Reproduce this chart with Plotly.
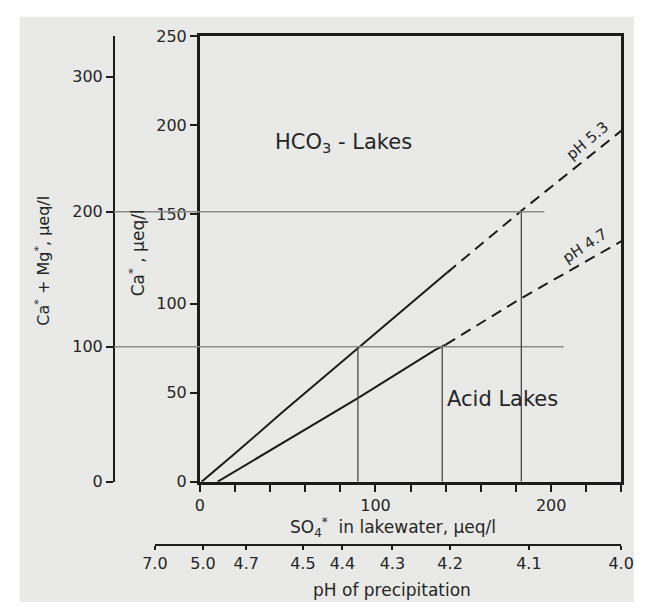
import plotly.graph_objects as go

# ---------------- data ----------------
so4_tickvals = [0, 100, 200]
so4_minor_step = 20
ca_tickvals = [0, 50, 100, 150, 200, 250]
camg_tickvals = [0, 100, 200, 300]

ph53_solid_x = [1, 19, 47, 90, 134, 141]
ph53_solid_y = [0, 15, 39, 75, 112, 117.5]
ph53_dash_x = [141, 183, 240]
ph53_dash_y = [117.5, 152, 197]

ph47_solid_x = [10, 90, 134, 140]
ph47_solid_y = [0, 47, 74, 77]
ph47_dash_x = [140, 183, 240]
ph47_dash_y = [77, 103, 135]

ref_h_camg = [100, 200]          # Ca*+Mg* reference levels
ref_h_end_so4 = [207, 196]       # where the faint horizontal lines stop
ref_v_so4 = [90, 138, 183]       # vertical drop lines
ref_v_camg = [100, 100, 200]     # drop lines start at these Ca*+Mg* levels

ph_ticktext = ["7.0", "5.0", "4.7", "4.5", "4.4", "4.3", "4.2", "4.1", "4.0"]
ph_tickvals = [-25.8, 1.6, 26.3, 58.6, 81.1, 109.6, 142.5, 187.4, 240]

# ---------------- geometry / style ----------------
W, H = 646, 612
XL, XR = 195, 633
YT, YB = 28, 488
OUTER_X = 106
PH_XL, PH_Y = 148, 553

xdom = [XL / W, XR / W]
ydom = [1 - YB / H, 1 - YT / H]

INK = "#1c1c1c"
TXT = "#262626"
BG = "#e9e9e7"
FONT = "DejaVu Sans"

fig = go.Figure()

line_solid = dict(color=INK, width=2)
line_dash = dict(color=INK, width=2, dash="11px,7px")

fig.add_trace(go.Scatter(x=ph53_solid_x, y=ph53_solid_y, mode="lines", line=line_solid,
                         showlegend=False, hoverinfo="skip"))
fig.add_trace(go.Scatter(x=ph53_dash_x, y=ph53_dash_y, mode="lines", line=line_dash,
                         showlegend=False, hoverinfo="skip"))
fig.add_trace(go.Scatter(x=ph47_solid_x, y=ph47_solid_y, mode="lines", line=line_solid,
                         showlegend=False, hoverinfo="skip"))
fig.add_trace(go.Scatter(x=ph47_dash_x, y=ph47_dash_y, mode="lines", line=line_dash,
                         showlegend=False, hoverinfo="skip"))

for lvl, xe in zip(ref_h_camg, ref_h_end_so4):
    fig.add_trace(go.Scatter(x=[0, xe], y=[lvl, lvl], xaxis="x", yaxis="y2", mode="lines",
                             line=dict(color="#8c8c8c", width=1.4),
                             showlegend=False, hoverinfo="skip"))
for xv, lvl in zip(ref_v_so4, ref_v_camg):
    fig.add_trace(go.Scatter(x=[xv, xv], y=[0, lvl], xaxis="x", yaxis="y2", mode="lines",
                             line=dict(color="#4a4a4a", width=1.3),
                             showlegend=False, hoverinfo="skip"))

fig.add_trace(go.Scatter(x=[ph_tickvals[0], ph_tickvals[-1]], y=[0, 0], xaxis="x2", yaxis="y",
                         mode="markers", marker=dict(opacity=0), showlegend=False,
                         hoverinfo="skip"))

shapes = [
    dict(type="rect", xref="paper", yref="paper", x0=8 / W, x1=1, y0=0, y1=1 - 8 / H,
         fillcolor=BG, line=dict(width=0), layer="below"),
]
for lvl in ref_h_camg:
    shapes.append(dict(type="line", xref="paper", yref="y2", x0=OUTER_X / W, x1=XL / W,
                       y0=lvl, y1=lvl, line=dict(color="#8c8c8c", width=1.4)))

axis_font = dict(family=FONT, size=16, color=TXT)

fig.update_layout(
    width=W, height=H, autosize=False,
    margin=dict(l=0, r=0, t=0, b=0),
    paper_bgcolor="white",
    plot_bgcolor="rgba(0,0,0,0)",
    showlegend=False,
    shapes=shapes,
    xaxis=dict(domain=xdom, range=[0, 240], tickmode="array", tickvals=so4_tickvals,
               ticks="outside", ticklen=7, tickwidth=2, tickcolor=INK,
               minor=dict(dtick=so4_minor_step, tick0=0, ticks="outside", ticklen=7,
                          tickwidth=2, tickcolor=INK, showgrid=False),
               showline=True, linecolor=INK, linewidth=2.5, mirror=True, showgrid=False,
               zeroline=False, tickfont=axis_font, anchor="y"),
    yaxis=dict(domain=ydom, range=[0, 250], tickmode="array", tickvals=ca_tickvals,
               ticks="outside", ticklen=7, tickwidth=2, tickcolor=INK,
               showline=True, linecolor=INK, linewidth=2.5, mirror=True, showgrid=False,
               zeroline=False, tickfont=axis_font, anchor="x"),
    yaxis2=dict(overlaying="y", anchor="free", position=OUTER_X / W, side="left",
                range=[0, 330], tickmode="array", tickvals=camg_tickvals,
                ticks="outside", ticklen=7, tickwidth=2, tickcolor=INK,
                showline=True, linecolor=INK, linewidth=2.2, showgrid=False,
                zeroline=False, tickfont=axis_font),
    xaxis2=dict(domain=[PH_XL / W, XR / W], anchor="free", position=1 - PH_Y / H,
                range=[ph_tickvals[0] - 0.2, ph_tickvals[-1] + 0.2], tickmode="array",
                tickvals=ph_tickvals, ticktext=ph_ticktext,
                ticks="outside", ticklen=4, tickwidth=2, tickcolor=INK,
                showline=True, linecolor=INK, linewidth=2, showgrid=False,
                zeroline=False, tickfont=axis_font),
)

def pann(px, py, text, size, angle=0):
    return dict(x=px / W, y=1 - py / H, xref="paper", yref="paper", text=text,
                showarrow=False, xanchor="center", yanchor="middle", textangle=angle,
                font=dict(family=FONT, size=size, color=TXT))

def dann(x, y, text, size, angle=0):
    return dict(x=x, y=y, xref="x", yref="y", text=text, showarrow=False,
                xanchor="center", yanchor="middle", textangle=angle,
                font=dict(family=FONT, size=size, color=TXT))

ann = [
    dann(82, 190, "HCO<sub>3</sub> - Lakes", 21),
    dann(172.5, 46.5, "Acid Lakes", 21),
    dann(220.5, 191, "pH 5.3", 15, -40),
    dann(219, 132.5, "pH 4.7", 15, -33),
    pann(396, 535, "SO<sub>4</sub><sup>*</sup>  in lakewater, µeq/l", 17),
    pann(395, 600, "pH of precipitation", 17),
    pann(32, 260, "Ca<sup>*</sup> + Mg<sup>*</sup>, µeq/l", 16, -90),
    pann(130, 252, "Ca<sup>*</sup> , µeq/l", 17, -90),
]
fig.update_layout(annotations=ann)

fig.write_html("out.html", config={"responsive": False})
